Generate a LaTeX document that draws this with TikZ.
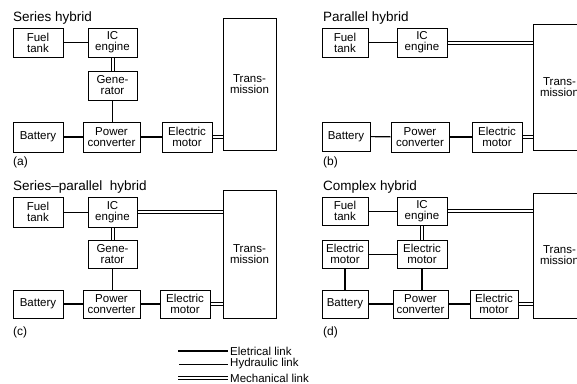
\documentclass[tikz,border=0pt]{standalone}
\usepackage{fontspec}
\setmainfont{Liberation Sans}
\usetikzlibrary{positioning}

\tikzset{
  unit/.style={draw, line width=0.8pt, align=center, inner sep=1pt,
    font=\fontsize{11.5}{11}\selectfont},
  elec/.style={line width=1.1pt},
  hydr/.style={line width=0.6pt},
  % mechanical link: two parallel lines, across (mechh) or down (mechv)
  mechh/.style={draw=none,
    postaction={draw, line width=0.7pt, transform canvas={yshift=1.5pt}},
    postaction={draw, line width=0.7pt, transform canvas={yshift=-1.5pt}}},
  mechv/.style={draw=none,
    postaction={draw, line width=0.7pt, transform canvas={xshift=1.5pt}},
    postaction={draw, line width=0.7pt, transform canvas={xshift=-1.5pt}}},
  heading/.style={anchor=base west, inner sep=0pt, font=\fontsize{13.5}{14}\selectfont},
  tag/.style={anchor=base west, inner sep=0pt, font=\fontsize{12}{13}\selectfont},
  keytext/.style={anchor=west, inner sep=2pt, font=\fontsize{11.5}{12}\selectfont},
}

\begin{document}
\begin{tikzpicture}[x=1pt, y=-1pt]
\useasboundingbox (0,0) rectangle (577,383);

  % Series hybrid
  \node[heading] (ta) at (13,21.5) {Series hybrid};
  \node[unit, minimum width=50pt, minimum height=29pt] (fta) at (38,42.5) {Fuel\\tank};
  \node[unit, minimum width=49pt, minimum height=29pt] (ica) at (112.5,42.5) {IC\\engine};
  \node[unit, minimum width=49pt, minimum height=29pt] (gena) at (112.5,85.5) {Gene-\\rator};
  \node[unit, minimum width=50pt, minimum height=30pt] (bata) at (38,137) {Battery};
  \node[unit, minimum width=57pt, minimum height=30pt] (pca) at (111.5,137) {Power\\converter};
  \node[unit, minimum width=50pt, minimum height=30pt] (ema) at (187,137) {Electric\\motor};
  \node[unit, minimum width=53pt, minimum height=132pt] (tra) at (249.5,84) {Trans-\\mission};
  \node[tag] (la) at (13,165) {(a)};
\draw[hydr] (fta) -- (ica);
\draw[mechv] (ica) -- (gena);
\draw[elec] (gena) -- (gena |- pca.north);
\draw[elec] (bata) -- (pca);
\draw[elec] (pca) -- (ema);
\draw[mechh] (ema) -- (ema -| tra.west);

  % Parallel hybrid
  \node[heading] (tb) at (323,21.5) {Parallel hybrid};
  \node[unit, minimum width=46pt, minimum height=29pt] (ftb) at (345,42.5) {Fuel\\tank};
  \node[unit, minimum width=50pt, minimum height=29pt] (icb) at (422,42.5) {IC\\engine};
  \node[unit, minimum width=48pt, minimum height=29pt] (batb) at (346,136.5) {Battery};
  \node[unit, minimum width=58pt, minimum height=30pt] (pcb) at (420,137) {Power\\converter};
  \node[unit, minimum width=50pt, minimum height=30pt] (emb) at (497,137) {Electric\\motor};
  \node[unit, minimum width=53pt, minimum height=126pt] (trb) at (559.5,87) {Trans-\\mission};
  \node[tag] (lb) at (323,165) {(b)};
\draw[hydr] (ftb) -- (icb);
\draw[mechh] (icb) -- (icb -| trb.west);
\draw[elec] (batb) -- (pcb);
\draw[elec] (pcb) -- (emb);
\draw[mechh] (emb) -- (emb -| trb.west);

  % Series-parallel hybrid
  \node[heading] (tc) at (13,190) {Series–parallel\ \ hybrid};
  \node[unit, minimum width=50pt, minimum height=30pt] (ftc) at (38,212) {Fuel\\tank};
  \node[unit, minimum width=49pt, minimum height=30pt] (icc) at (112.5,212) {IC\\engine};
  \node[unit, minimum width=49pt, minimum height=28pt] (genc) at (112.5,254) {Gene-\\rator};
  \node[unit, minimum width=50pt, minimum height=28pt] (batc) at (38,304) {Battery};
  \node[unit, minimum width=57pt, minimum height=28pt] (pcc) at (111.5,304) {Power\\converter};
  \node[unit, minimum width=50pt, minimum height=28pt] (emc) at (185,304) {Electric\\motor};
  \node[unit, minimum width=53pt, minimum height=128pt] (trc) at (249.5,254) {Trans-\\mission};
  \node[tag] (lc) at (13,335) {(c)};
\draw[hydr] (ftc) -- (icc);
\draw[mechh] (icc) -- (icc -| trc.west);
\draw[mechv] (icc) -- (genc);
\draw[elec] (genc) -- (genc |- pcc.north);
\draw[elec] (batc) -- (pcc);
\draw[elec] (pcc) -- (emc);
\draw[mechh] (emc) -- (emc -| trc.west);

  % Complex hybrid
  \node[heading] (td) at (323,190) {Complex hybrid};
  \node[unit, minimum width=46pt, minimum height=28pt] (ftd) at (345,211) {Fuel\\tank};
  \node[unit, minimum width=50pt, minimum height=28pt] (icd) at (422,211) {IC\\engine};
  \node[unit, minimum width=46pt, minimum height=28pt] (emld) at (345,254) {Electric\\motor};
  \node[unit, minimum width=50pt, minimum height=28pt] (emcd) at (422,254) {Electric\\motor};
  \node[unit, minimum width=46pt, minimum height=28pt] (batd) at (345,304) {Battery};
  \node[unit, minimum width=55pt, minimum height=28pt] (pcd) at (420.5,304) {Power\\converter};
  \node[unit, minimum width=48pt, minimum height=28pt] (emrd) at (494,304) {Electric\\motor};
  \node[unit, minimum width=53pt, minimum height=125pt] (trd) at (559.5,255.5) {Trans-\\mission};
  \node[tag] (ld) at (323,335) {(d)};
\draw[hydr] (ftd) -- (icd);
\draw[mechh] (icd) -- (icd -| trd.west);
\draw[mechv] (icd) -- (emcd);
\draw[hydr] (emld) -- (emcd);
\draw[elec] (emld) -- (batd);
\draw[elec] (emcd) -- (emcd |- pcd.north);
\draw[elec] (batd) -- (pcd);
\draw[elec] (pcd) -- (emrd);
\draw[mechh] (emrd) -- (emrd -| trd.west);

  % Legend
  \coordinate (e0) at (178,351);
  \coordinate (h0) at (179,364);
  \coordinate (m0) at (178,378);
  \node[keytext] (e1) at (228,351) {Eletrical link};
  \node[keytext] (h1) at (228,364) {Hydraulic link};
  \node[keytext] (m1) at (228,378) {Mechanical link};
\draw[elec] (e0) -- (e1.west);
\draw[hydr] (h0) -- (h1.west);
\draw[mechh] (m0) -- (m1.west);
\end{tikzpicture}
\end{document}
